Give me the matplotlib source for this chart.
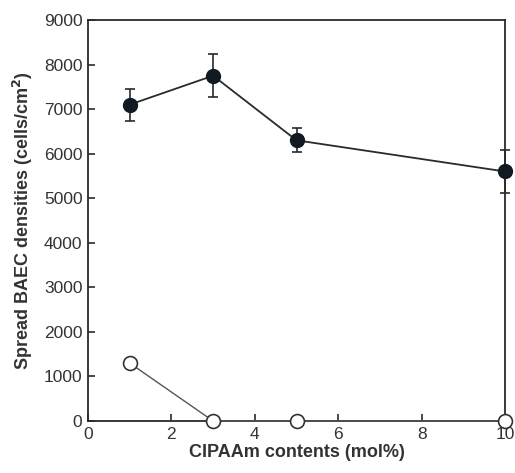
import matplotlib
matplotlib.use("Agg")
import matplotlib.pyplot as plt

# CIPAAm content (mol%)
contents = [1, 3, 5, 10]
# spread BAEC densities (cells/cm2), filled series with error bars
filled_density = [7100, 7750, 6300, 5600]
filled_err = [360, 480, 270, 480]
# open series
open_density = [1300, 0, 0, 0]

x_ticks = [0, 2, 4, 6, 8, 10]
y_ticks = [0, 1000, 2000, 3000, 4000, 5000, 6000, 7000, 8000, 9000]

plt.rcParams["font.family"] = ["Liberation Sans", "DejaVu Sans"]
text_color = "#333333"
line_color = "#2a2a2a"

fig = plt.figure(figsize=(5.15, 4.73), dpi=100)
ax = fig.add_axes([88 / 515, 1 - 421 / 473, (505 - 88) / 515, (421 - 20) / 473])

ax.plot(contents, open_density, color="#555555", linewidth=1.0, marker="o",
        markersize=10, markerfacecolor="white", markeredgecolor="#333333",
        markeredgewidth=1.2, zorder=3, clip_on=False)
ax.errorbar(contents, filled_density, yerr=filled_err, color=line_color,
            linewidth=1.3, marker="o", markersize=10, markerfacecolor="#111a22",
            markeredgecolor="#111a22", ecolor=line_color, elinewidth=1.2,
            capsize=3.5, capthick=1.2, zorder=4, clip_on=False)

ax.set_xlim(0, 10)
ax.set_ylim(0, 9000)
ax.set_xticks(x_ticks)
ax.set_yticks(y_ticks)
ax.tick_params(direction="in", length=5, width=1.2, labelsize=12.5,
               colors=line_color, labelcolor=text_color, pad=4)
for side in ("left", "bottom", "right", "top"):
    ax.spines[side].set_linewidth(1.3)
    ax.spines[side].set_color(line_color)

ax.set_xlabel("CIPAAm contents (mol%)", fontsize=13, fontweight="bold",
              color=text_color, labelpad=2)
ax.set_ylabel("Spread BAEC densities (cells/cm$^\\mathbf{2}$)", fontsize=13,
              fontweight="bold", color=text_color, labelpad=6)

fig.savefig("out.png", dpi=100)
